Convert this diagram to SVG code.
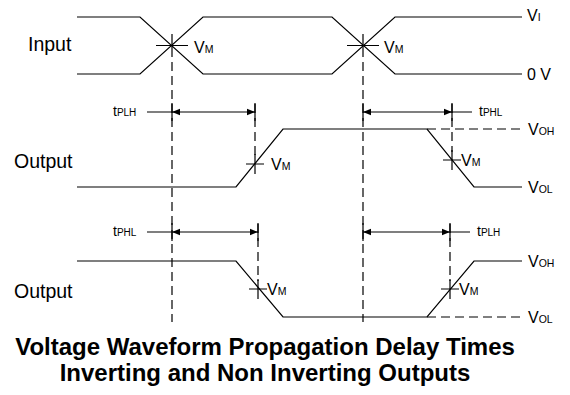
<svg xmlns="http://www.w3.org/2000/svg" width="570" height="395" viewBox="0 0 570 395">
<defs>
<marker id="ah" viewBox="0 0 10 10" refX="10" refY="5" markerWidth="8" markerHeight="8" orient="auto-start-reverse" markerUnits="userSpaceOnUse">
<path d="M0,1 L10,5 L0,9 Z" fill="#000"/>
</marker>
</defs>
<style>
.w{fill:none;stroke:#000;stroke-width:1.2}
.d{fill:none;stroke:#000;stroke-width:1.2;stroke-dasharray:9,5}
.t{font-family:"Liberation Sans",Arial,sans-serif;font-size:16px;fill:#000}
.l{font-family:"Liberation Sans",Arial,sans-serif;font-size:19.5px;fill:#000}
.s{font-size:10.5px}
.ts{font-family:"Liberation Sans",Arial,sans-serif;font-size:14px;fill:#000}
.ts tspan{font-size:10px}
.ti{font-family:"Liberation Sans",Arial,sans-serif;font-size:24px;font-weight:bold;fill:#000;text-anchor:middle}
</style>
<rect width="570" height="395" fill="#fff"/>
<g id="input">
<path class="w" d="M77,17 H140 L203,74 H332 L395,17 H522"/>
<path class="w" d="M77,74 H140 L203,17 H332 L395,74 H522"/>
<path class="w" d="M156,45.5 H188 M172,34 V57 M347,45.5 H379 M363,34 V57"/>
<text class="l" x="28" y="51">Input</text>
<text class="t" x="194" y="53">V<tspan class="s">M</tspan></text>
<text class="t" x="384" y="53">V<tspan class="s">M</tspan></text>
<text class="t" x="527" y="21">V<tspan class="s">I</tspan></text>
<text class="t" x="527" y="80" font-size="18">0 V</text>
</g>
<g id="output1">
<path class="w" d="M77,187 H236 L283,129 H427 L474,187 H522"/>
<path class="d" d="M427,129 H522"/>
<path class="w" d="M246,164 H264 M255,154 V174 M443,160 H461 M452,150 V170"/>
<text class="l" x="14" y="168">Output</text>
<text class="t" x="271" y="170">V<tspan class="s">M</tspan></text>
<text class="t" x="461" y="166">V<tspan class="s">M</tspan></text>
<text class="t" x="528" y="135">V<tspan class="s" font-size="12.5">OH</tspan></text>
<text class="t" x="528" y="193">V<tspan class="s" font-size="12.5">OL</tspan></text>
</g>
<g id="output2">
<path class="w" d="M77,261 H236 L283,317 H427 L474,261 H522"/>
<path class="d" d="M427,317 H522"/>
<path class="w" d="M249,289 H267 M258,279 V299 M441,289 H459 M450,279 V299"/>
<text class="l" x="14" y="298">Output</text>
<text class="t" x="267" y="295">V<tspan class="s">M</tspan></text>
<text class="t" x="459" y="295">V<tspan class="s">M</tspan></text>
<text class="t" x="528" y="267">V<tspan class="s" font-size="12.5">OH</tspan></text>
<text class="t" x="528" y="323">V<tspan class="s" font-size="12.5">OL</tspan></text>
</g>
<g id="connectors">
<path class="d" d="M172,62 V322 M363,62 V322"/>
<path class="d" d="M255,104 V156 M452,104 V152 M258,224 V281 M450,224 V281"/>
<path class="w" d="M255,103 V121 M452,103 V121 M172,103 V121 M363,103 V121"/>
<path class="w" d="M147,112 H172 M452,112 H472"/>
<path class="w" marker-start="url(#ah)" marker-end="url(#ah)" d="M172,112 H255"/>
<path class="w" marker-start="url(#ah)" marker-end="url(#ah)" d="M363,112 H452"/>
<path class="w" d="M172,223 V241 M258,223 V241 M363,223 V241 M450,223 V241"/>
<path class="w" d="M147,232 H172 M450,232 H470"/>
<path class="w" marker-start="url(#ah)" marker-end="url(#ah)" d="M172,232 H258"/>
<path class="w" marker-start="url(#ah)" marker-end="url(#ah)" d="M363,232 H450"/>
<text class="ts" x="113" y="116">t<tspan>PLH</tspan></text>
<text class="ts" x="479" y="116">t<tspan>PHL</tspan></text>
<text class="ts" x="113" y="236">t<tspan>PHL</tspan></text>
<text class="ts" x="477" y="236">t<tspan>PLH</tspan></text>
</g>
<text class="ti" x="265" y="355">Voltage Waveform Propagation Delay Times</text>
<text class="ti" x="265" y="381">Inverting and Non Inverting Outputs</text>
</svg>
